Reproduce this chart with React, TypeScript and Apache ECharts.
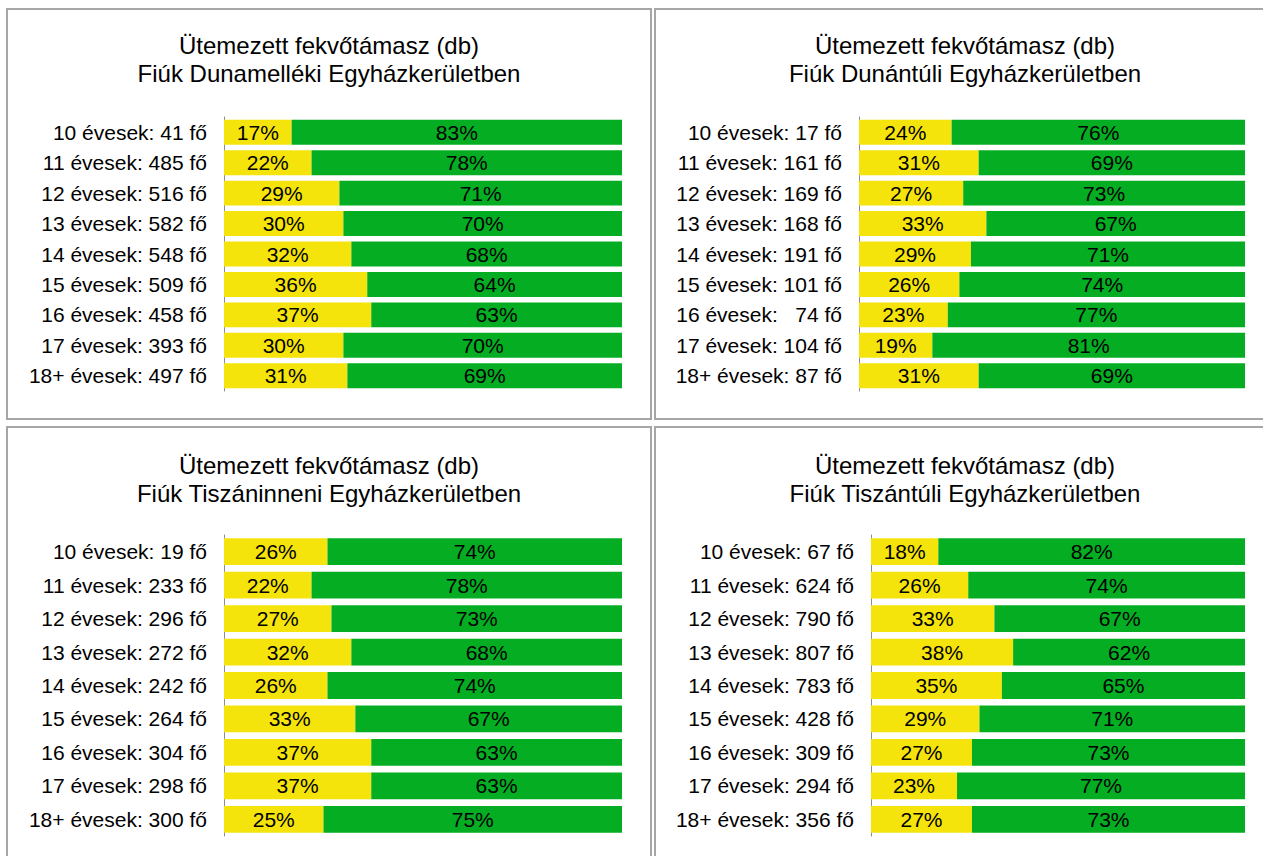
import React, { useEffect, useRef } from "react";
import * as echarts from "echarts";

const TITLE_LINE1 = "Ütemezett fekvőtámasz (db)";
const TITLES = [
  "Fiúk Dunamelléki Egyházkerületben",
  "Fiúk Dunántúli Egyházkerületben",
  "Fiúk Tiszáninneni Egyházkerületben",
  "Fiúk Tiszántúli Egyházkerületben",
];

const AGES = ["10", "11", "12", "13", "14", "15", "16", "17", "18+"];

const COUNTS_1 = ["41", "485", "516", "582", "548", "509", "458", "393", "497"];
const YELLOW_1 = [17, 22, 29, 30, 32, 36, 37, 30, 31];
const GREEN_1 = [83, 78, 71, 70, 68, 64, 63, 70, 69];

const COUNTS_2 = ["17", "161", "169", "168", "191", "101", "\u200774", "104", "87"];
const YELLOW_2 = [24, 31, 27, 33, 29, 26, 23, 19, 31];
const GREEN_2 = [76, 69, 73, 67, 71, 74, 77, 81, 69];

const COUNTS_3 = ["19", "233", "296", "272", "242", "264", "304", "298", "300"];
const YELLOW_3 = [26, 22, 27, 32, 26, 33, 37, 37, 25];
const GREEN_3 = [74, 78, 73, 68, 74, 67, 63, 63, 75];

const COUNTS_4 = ["67", "624", "790", "807", "783", "428", "309", "294", "356"];
const YELLOW_4 = [18, 26, 33, 38, 35, 29, 27, 23, 27];
const GREEN_4 = [82, 74, 67, 62, 65, 71, 73, 77, 73];

const YELLOW = "#F5E40C";
const GREEN = "#05AD23";
const FONT = "Liberation Sans, Arial, sans-serif";

const makeCats = (counts: string[]) =>
  AGES.map((a, i) => `${a} évesek: ${counts[i]} fő`);

export default function App() {
  const ref = useRef<HTMLDivElement>(null);
  useEffect(() => {
    if (!ref.current) return;
    const chart = echarts.init(ref.current, undefined, { renderer: "svg" });

    const panels = [
      { counts: COUNTS_1, y: YELLOW_1, g: GREEN_1, grid: { left: 224, width: 398, top: 117, height: 274 }, gap: "18%" },
      { counts: COUNTS_2, y: YELLOW_2, g: GREEN_2, grid: { left: 859, width: 386, top: 117, height: 274 }, gap: "18%" },
      { counts: COUNTS_3, y: YELLOW_3, g: GREEN_3, grid: { left: 224, width: 398, top: 535, height: 301 }, gap: "20%" },
      { counts: COUNTS_4, y: YELLOW_4, g: GREEN_4, grid: { left: 871, width: 374, top: 535, height: 301 }, gap: "20%" },
    ];

    const boxes = [
      { x: 7, y: 9, w: 644, h: 410 },
      { x: 655, y: 9, w: 630, h: 410 },
      { x: 7, y: 427, w: 644, h: 450 },
      { x: 655, y: 427, w: 630, h: 450 },
    ];
    const titleCenters = [
      { x: 329, y: 45 },
      { x: 965, y: 45 },
      { x: 329, y: 465 },
      { x: 965, y: 465 },
    ];

    const graphic: any[] = [];
    boxes.forEach((b) => {
      graphic.push({
        type: "rect",
        shape: { x: b.x, y: b.y, width: b.w, height: b.h },
        style: { fill: "none", stroke: "#a6a6a6", lineWidth: 2 },
        silent: true,
      });
    });
    titleCenters.forEach((t, i) => {
      graphic.push({
        type: "text",
        x: t.x,
        y: t.y,
        style: {
          text: TITLE_LINE1,
          font: `24px ${FONT}`,
          fill: "#000",
          textAlign: "center",
          textVerticalAlign: "middle",
        },
      });
      graphic.push({
        type: "text",
        x: t.x,
        y: t.y + 28,
        style: {
          text: TITLES[i],
          font: `24px ${FONT}`,
          fill: "#000",
          textAlign: "center",
          textVerticalAlign: "middle",
        },
      });
    });

    const labelStyle = {
      show: true,
      position: "inside",
      formatter: "{c}%",
      color: "#000",
      fontSize: 21,
      fontFamily: FONT,
    };

    const series: any[] = [];
    panels.forEach((p, i) => {
      series.push({
        type: "bar",
        stack: "s" + i,
        xAxisIndex: i,
        yAxisIndex: i,
        data: p.y,
        barCategoryGap: p.gap,
        itemStyle: { color: YELLOW },
        label: labelStyle,
      });
      series.push({
        type: "bar",
        stack: "s" + i,
        xAxisIndex: i,
        yAxisIndex: i,
        data: p.g,
        barCategoryGap: p.gap,
        itemStyle: { color: GREEN },
        label: labelStyle,
      });
    });

    chart.setOption({
      animation: false,
      backgroundColor: "#fff",
      grid: panels.map((p) => ({ ...p.grid, containLabel: false })),
      xAxis: panels.map((_, i) => ({
        type: "value",
        gridIndex: i,
        min: 0,
        max: 100,
        show: false,
      })),
      yAxis: panels.map((p, i) => ({
        type: "category",
        gridIndex: i,
        inverse: true,
        data: makeCats(p.counts),
        axisLine: { show: true, lineStyle: { color: "#8c8c8c", width: 1 } },
        axisTick: { show: false },
        splitLine: { show: false },
        axisLabel: {
          color: "#000",
          fontSize: 21,
          fontFamily: FONT,
          margin: 17,
        },
      })),
      series,
      graphic,
    });

    return () => chart.dispose();
  }, []);

  return (
    <div
      ref={ref}
      style={{ position: "fixed", left: 0, top: 0, width: 1263, height: 856 }}
    />
  );
}
